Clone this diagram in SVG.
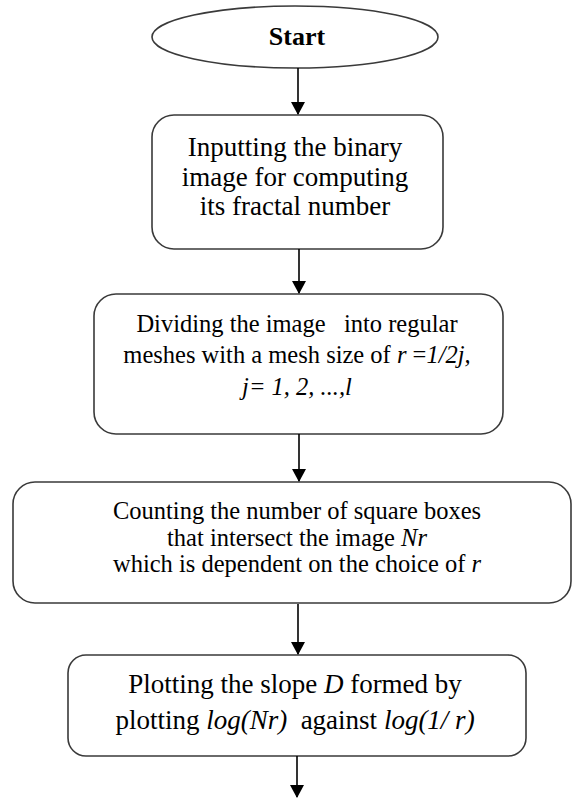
<svg xmlns="http://www.w3.org/2000/svg" width="572" height="798" viewBox="0 0 572 798">
<style>
.box{fill:#fff;stroke:#3a3a3a;stroke-width:1.6}
.t{font-family:"Liberation Serif","Times New Roman",serif;fill:#000;text-anchor:middle}
.i{font-style:italic}
.conn line{stroke:#000;stroke-width:1.6}
</style>
<defs>
<marker id="ah" markerWidth="14" markerHeight="14" refX="12" refY="7" orient="auto" markerUnits="userSpaceOnUse">
<path d="M0,0 L13,7 L0,14 Z" fill="#000"/>
</marker>
</defs>
<rect width="572" height="798" fill="#fff"/>
<g id="start">
<ellipse class="box" cx="295" cy="37" rx="143" ry="31"/>
<text class="t" x="297" y="45" font-size="26" font-weight="bold">Start</text>
</g>
<g id="input">
<rect class="box" x="152" y="115" width="291" height="134" rx="22"/>
<text class="t" font-size="27"><tspan x="295" y="156">Inputting the binary</tspan><tspan x="295" y="186">image for computing</tspan><tspan x="295" y="215">its fractal number</tspan></text>
</g>
<g id="divide">
<rect class="box" x="94" y="294" width="409" height="140" rx="22"/>
<text class="t" font-size="24.5" xml:space="preserve"><tspan x="297" y="332">Dividing the image   into regular</tspan><tspan x="297" y="363">meshes with a mesh size of <tspan class="i">r</tspan> =<tspan class="i">1/2j,</tspan></tspan><tspan x="297" y="395" class="i">j= 1, 2, ...,l</tspan></text>
</g>
<g id="count">
<rect class="box" x="13" y="482" width="558" height="121" rx="22"/>
<text class="t" font-size="24.5"><tspan x="297" y="519">Counting the number of square boxes</tspan><tspan x="297" y="546">that intersect the image <tspan class="i">Nr</tspan></tspan><tspan x="297" y="572">which is dependent on the choice of <tspan class="i">r</tspan></tspan></text>
</g>
<g id="plot">
<rect class="box" x="68" y="655" width="458" height="101" rx="18"/>
<text class="t" font-size="27" xml:space="preserve"><tspan x="295" y="693">Plotting the slope <tspan class="i">D</tspan> formed by</tspan><tspan x="295" y="729">plotting <tspan class="i">log(Nr)</tspan>  against <tspan class="i">log(1/ r)</tspan></tspan></text>
</g>
<g class="conn" id="connectors">
<line x1="298" y1="68" x2="298" y2="114" marker-end="url(#ah)"/>
<line x1="299" y1="249" x2="299" y2="293" marker-end="url(#ah)"/>
<line x1="299" y1="434" x2="299" y2="481" marker-end="url(#ah)"/>
<line x1="298" y1="604" x2="298" y2="654" marker-end="url(#ah)"/>
<line x1="297" y1="756" x2="297" y2="797" marker-end="url(#ah)"/>
</g>
</svg>
